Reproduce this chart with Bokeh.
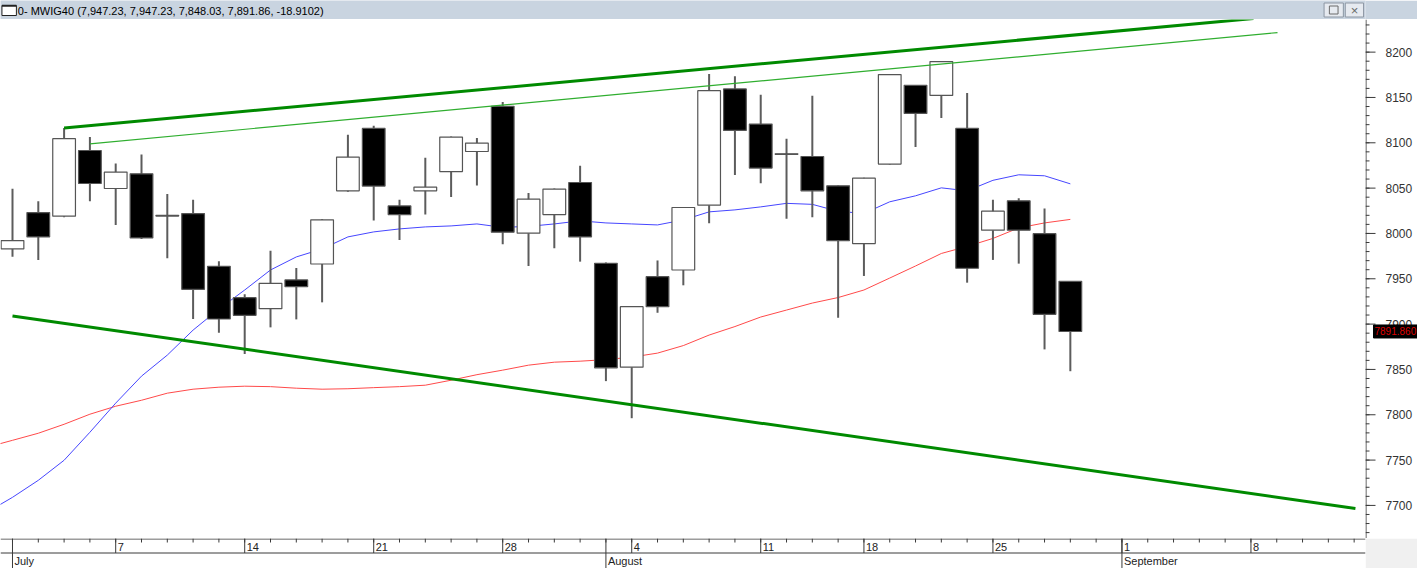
import pandas as pd
from bokeh.plotting import figure
from bokeh.models import Range1d, ColumnDataSource
from bokeh.layouts import column, row
from bokeh.embed import file_html
from bokeh.resources import INLINE
from bokeh.core.properties import value

# ---------------- data ----------------
title_text = "0- MWIG40 (7,947.23, 7,947.23, 7,848.03, 7,891.86, -18.9102)"
holidays = ["2014-08-15"]
first_day, last_axis_day = "2014-07-01", "2014-09-12"
n_bars = 42

opens = [7982.9, 8023.0, 8019.1, 8091.5, 8049.6, 8065.8, 8020.0, 8021.9, 7963.8, 7929.1,
         7917.0, 7948.7, 7966.3, 8047.0, 8115.9, 8030.4, 8047.0, 8068.3, 8090.4, 8140.2,
         8000.3, 8020.8, 8056.2, 7967.1, 7852.5, 7952.3, 7959.7, 8031.2, 8159.4, 8120.7,
         8087.9, 8084.9, 8052.5, 7988.8, 8076.5, 8163.4, 8152.3, 8115.9, 8003.6, 8036.0,
         7999.8, 7947.23]
highs = [8049.2, 8035.6, 8116.3, 8106.3, 8077.2, 8087.1, 8043.4, 8037.1, 7969.3, 7932.9,
         7981.0, 7961.9, 8016.0, 8108.9, 8118.8, 8037.1, 8083.5, 8107.0, 8105.2, 8145.0,
         8044.5, 8049.5, 8074.6, 7968.0, 7919.5, 7970.2, 8029.0, 8176.0, 8173.3, 8153.1,
         8104.5, 8152.0, 8053.0, 8061.5, 8175.5, 8163.6, 8190.0, 8155.0, 8037.1, 8038.9,
         8027.5, 7947.23]
lows = [7974.4, 7970.8, 8018.0, 8035.6, 8009.4, 7994.0, 7972.6, 7905.6, 7890.4, 7866.9,
        7896.4, 7905.2, 7924.0, 8046.0, 8014.2, 7992.9, 8020.8, 8040.1, 8052.9, 7988.1,
        7964.1, 7983.7, 7968.9, 7837.1, 7796.2, 7912.5, 7942.8, 8011.3, 8064.4, 8055.5,
        8016.1, 8018.0, 7907.0, 7953.1, 8076.0, 8095.3, 8127.3, 7945.7, 7970.8, 7966.7,
        7872.1, 7848.03]
closes = [7992.1, 7996.2, 8104.5, 8055.1, 8067.7, 7995.1, 8019.2, 7938.4, 7905.6, 7909.7,
          7945.0, 7941.3, 8015.0, 8084.2, 8052.2, 8020.8, 8051.1, 8106.3, 8099.7, 8001.4,
          8037.8, 8048.9, 7996.2, 7851.8, 7919.2, 7919.2, 8028.6, 8157.5, 8113.6, 8072.1,
          8087.3, 8047.0, 7992.1, 8061.0, 8175.2, 8132.4, 8189.6, 7961.6, 8024.6, 8003.6,
          7910.77, 7891.86]
# moving averages, first value belongs to 2014-06-30 (bar index -1)
ma_blue = [7692.3, 7708.9, 7727.7, 7749.8, 7780.7, 7812.8, 7842.6, 7865.8, 7893.4, 7916.6,
           7937.6, 7959.7, 7974.1, 7982.9, 7996.2, 8001.7, 8005.0, 8007.2, 8008.3, 8010.5,
           8006.7, 8007.8, 8010.5, 8013.9, 8011.6, 8010.5, 8009.4, 8014.9, 8023.8, 8026.0,
           8029.3, 8033.2, 8032.1, 8024.4, 8022.1, 8034.9, 8041.5, 8050.3, 8047.0, 8058.6,
           8064.7, 8063.6, 8054.7]
ma_red = [7764.1, 7771.8, 7779.6, 7789.5, 7800.6, 7809.4, 7816.0, 7823.8, 7828.2, 7830.4,
          7831.5, 7831.0, 7829.3, 7828.2, 7828.7, 7829.9, 7831.0, 7832.6, 7838.1, 7844.2,
          7849.2, 7854.7, 7858.0, 7859.1, 7860.8, 7863.6, 7868.0, 7876.3, 7887.9, 7897.3,
          7907.8, 7915.5, 7923.2, 7929.3, 7937.6, 7950.8, 7964.1, 7977.9, 7985.7, 7994.5,
          8006.1, 8011.6, 8015.5]
# trend lines (bar index, price)
trend_thick_up_x = [2, 48.1]
trend_thick_up_y = [8116.3, 8237.1]
trend_thin_up_x = [3, 49.03]
trend_thin_up_y = [8098.9, 8221.6]
trend_low_x = [0, 52.05]
trend_low_y = [7909.0, 7696.7]
# price axis ticks
y_major_ticks = [7700, 7750, 7800, 7850, 7900, 7950, 8000, 8050, 8100, 8150, 8200]
y_minor_ticks = list(range(7670, 8236, 10))
price_label = "7891.860"

# ---------------- layout constants ----------------
W = 1417
H_HEAD = 19
H_AXIS = 30
H_MAIN = 568 - H_HEAD - H_AXIS
RIGHT = 52
X0, X1 = -0.465, 52.44
Y0, Y1 = 7663.5, 8236.0
FONT = "Liberation Sans"
AX_COL = "#3a3a3a"


def bare(fig, bg="white", border="white"):
    fig.background_fill_color = bg
    fig.border_fill_color = border
    fig.outline_line_color = None
    fig.xgrid.visible = False
    fig.ygrid.visible = False


axis_days = [d for d in pd.bdate_range(first_day, last_axis_day)
             if d.strftime("%Y-%m-%d") not in holidays]
idx = list(range(n_bars))
ma_idx = [-1] + idx

src = ColumnDataSource(dict(
    x=idx, o=opens, h=highs, l=lows, c=closes,
    top=[max(a, b) for a, b in zip(opens, closes)],
    bot=[min(a, b) for a, b in zip(opens, closes)],
    fill=["white" if c >= o else "black" for o, c in zip(opens, closes)],
))

# ---------------- header ----------------
hd = figure(width=W, height=H_HEAD, x_range=Range1d(0, W), y_range=Range1d(H_HEAD, 0),
            output_backend="svg", toolbar_location=None, x_axis_location=None,
            y_axis_location=None, min_border=0)
bare(hd, "#c9d4e0", "#c9d4e0")
hd.rect(x=[9], y=[10], width=[15], height=[10], fill_color="white", line_color="#222222", line_width=1)
hd.segment(x0=[1.5], y0=[5.3], x1=[16.5], y1=[5.3], line_color="#222222", line_width=2)
hd.text(x=[18], y=[10], text=[title_text], text_baseline="middle", text_align="left",
        text_font=value(FONT), text_font_size="11px", text_color="#000000")
hd.rect(x=[W - 33, W - 11.5], y=[9.5, 9.5], width=[20, 19], height=[14, 14],
        fill_color="#e6eaf0", line_color="#8c96a3", line_width=1)
hd.rect(x=[W - 33], y=[9.5], width=[9], height=[8], fill_color=None, line_color="#6a6a6a", line_width=1)
hd.text(x=[W - 11.5], y=[9.5], text=["×"], text_baseline="middle", text_align="center",
        text_font=value(FONT), text_font_size="13px", text_color="#6a6a6a")

# ---------------- main chart ----------------
p = figure(width=W - RIGHT, height=H_MAIN, x_range=Range1d(X0, X1), y_range=Range1d(Y0, Y1),
           output_backend="svg", toolbar_location=None, x_axis_location=None,
           y_axis_location=None, min_border=0)
bare(p)

p.line(ma_idx, ma_red, line_color="#ff4a4a", line_width=1)
p.line(ma_idx, ma_blue, line_color="#4646ff", line_width=1)

p.segment(x0="x", y0="l", x1="x", y1="h", source=src, line_color="#5c5c5c", line_width=2)
p.vbar(x="x", width=0.88, top="top", bottom="bot", source=src,
       fill_color="fill", line_color="#555555", line_width=1.2)

p.line(trend_thin_up_x, trend_thin_up_y, line_color="#2fae2f", line_width=1.2)
p.line(trend_thick_up_x, trend_thick_up_y, line_color="#008a00", line_width=3)
p.line(trend_low_x, trend_low_y, line_color="#008a00", line_width=3)

# ---------------- price axis panel (right) ----------------
rp = figure(width=RIGHT, height=H_MAIN, x_range=Range1d(0, RIGHT), y_range=p.y_range,
            output_backend="svg", toolbar_location=None, x_axis_location=None,
            y_axis_location=None, min_border=0)
bare(rp)
rp.segment(x0=[0.5], y0=[Y0], x1=[0.5], y1=[Y1], line_color=AX_COL, line_width=1)
rp.segment(x0=[0] * len(y_minor_ticks), y0=y_minor_ticks, x1=[4] * len(y_minor_ticks),
           y1=y_minor_ticks, line_color=AX_COL, line_width=1)
rp.segment(x0=[0] * len(y_major_ticks), y0=y_major_ticks, x1=[10] * len(y_major_ticks),
           y1=y_major_ticks, line_color=AX_COL, line_width=1)
rp.text(x=[20] * len(y_major_ticks), y=y_major_ticks, text=[str(t) for t in y_major_ticks],
        text_baseline="middle", text_align="left", text_font=value(FONT),
        text_font_size="12px", text_color="#333333")
rp.rect(x=[30], y=[closes[-1]], width=[44], height=[13], height_units="screen",
        fill_color="black", line_color="black")
rp.text(x=[9], y=[closes[-1]], text=[price_label], text_baseline="middle", text_align="left",
        text_font=value(FONT), text_font_size="10px", text_color="#dd0000")

# ---------------- date axis ----------------
da = figure(width=W, height=H_AXIS, x_range=p.x_range, y_range=Range1d(H_AXIS, 0),
            output_backend="svg", toolbar_location=None, x_axis_location=None,
            y_axis_location=None, min_border_left=0, min_border_right=RIGHT,
            min_border_top=0, min_border_bottom=0)
bare(da, "white", "#f0f0f0")

all_x = list(range(len(axis_days)))
mon_x = [i for i, d in enumerate(axis_days) if d.weekday() == 0]
mon_lab = [str(axis_days[i].day) for i in mon_x]
month_x = [i for i, d in enumerate(axis_days) if i == 0 or d.month != axis_days[i - 1].month]
month_lab = [axis_days[i].strftime("%B") for i in month_x]

da.segment(x0=[X0], y0=[0.5], x1=[X1], y1=[0.5], line_color=AX_COL, line_width=1)
da.segment(x0=[X0], y0=[14.5], x1=[X1], y1=[14.5], line_color=AX_COL, line_width=1)
da.segment(x0=all_x, y0=[0] * len(all_x), x1=all_x, y1=[4] * len(all_x), line_color=AX_COL, line_width=1)
da.segment(x0=mon_x, y0=[0] * len(mon_x), x1=mon_x, y1=[14.5] * len(mon_x), line_color=AX_COL, line_width=1)
da.segment(x0=month_x, y0=[0] * len(month_x), x1=month_x, y1=[H_AXIS] * len(month_x), line_color=AX_COL, line_width=1)
da.text(x=mon_x, y=[8] * len(mon_x), text=mon_lab, x_offset=2, text_baseline="middle",
        text_align="left", text_font=value(FONT), text_font_size="11px", text_color="#222222")
da.text(x=month_x, y=[22.5] * len(month_x), text=month_lab, x_offset=2, text_baseline="middle",
        text_align="left", text_font=value(FONT), text_font_size="11px", text_color="#222222")

layout = column(hd, row(p, rp, spacing=0), da, spacing=0)
open("out.html", "w").write(file_html(layout, INLINE))
